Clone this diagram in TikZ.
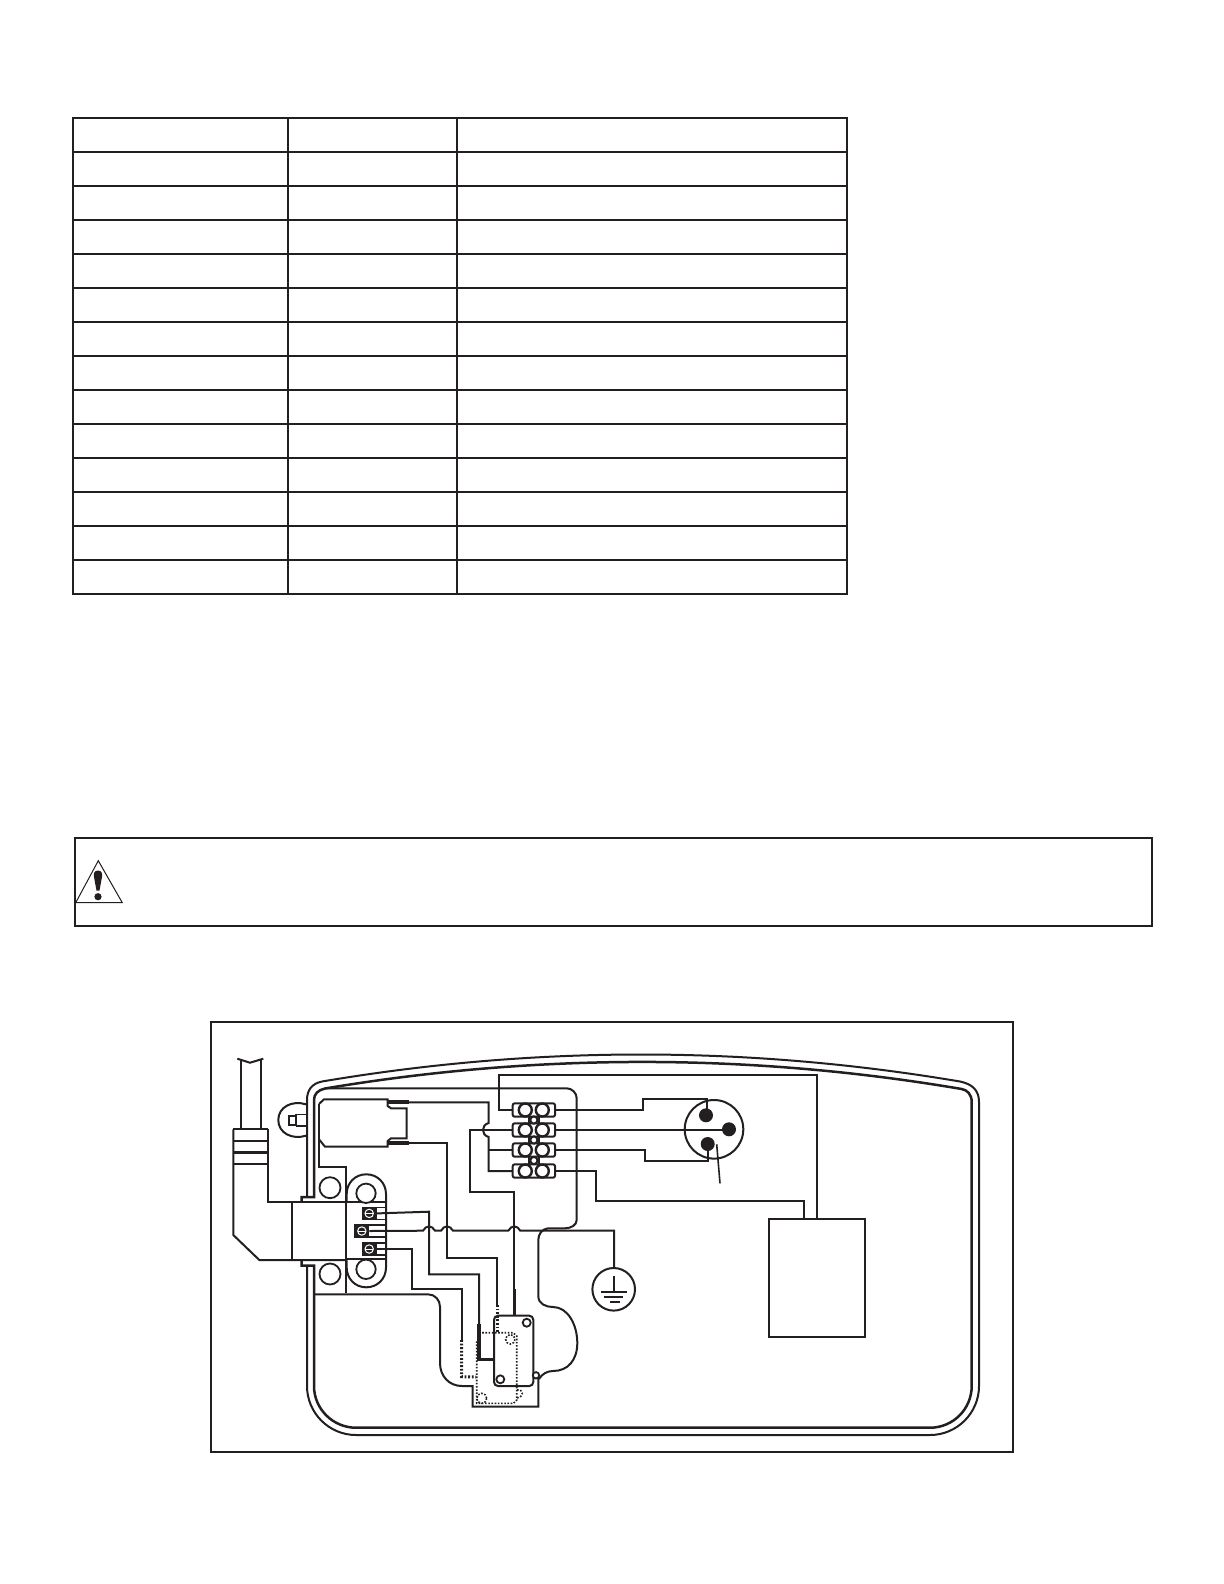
\documentclass[tikz,border=0pt]{standalone}
\definecolor{ink}{HTML}{231F20}
\tikzset{
  frameline/.style={draw=ink,line width=1pt},
  wall/.style={draw=ink,line width=1pt},
  wallthick/.style={draw=ink,line width=1.25pt},
  wire/.style={draw=ink,line width=1pt},
  thinwire/.style={draw=ink,line width=.8pt},
  lug/.style={draw=ink,line width=2pt},
  dotwire/.style={draw=ink,line width=.8pt,dash pattern=on .8pt off .8pt},
  dotthick/.style={draw=ink,line width=1.5pt,dash pattern=on .9pt off .9pt},
  hole/.style={draw=ink,line width=.9pt,fill=white},
}
\begin{document}
\begin{tikzpicture}[x=0.5pt,y=-0.5pt]
\useasboundingbox (0,0) rectangle (1224,1584);
% ---------- table
\draw[frameline] (73,118) rectangle (846.5,594);
\foreach \r in {1,...,13} \draw[frameline] (73,118+34*\r) -- (846.5,118+34*\r);
\draw[frameline] (288,118) -- (288,594);
\draw[frameline] (457,118) -- (457,594);
% ---------- warning box
\draw[frameline] (75,837.5) rectangle (1152,926);
\draw[ink,line width=.5pt] (98.3,860.7) -- (122.3,902.7) -- (75.7,902.7) -- cycle;
\fill[ink] (98,870.5) .. controls (102,870.5) and (102.5,874) .. (102,877) -- (99.5,890.5) -- (96.5,890.5) -- (94,877) .. controls (93.5,874) and (94,870.5) .. (98,870.5) -- cycle;
\fill[ink] (98,896.7) circle[radius=3.6];
% ---------- diagram frame
\draw[frameline] (211,1021.7) rectangle (1013.3,1451.7);
% ---------- housing walls
\draw[wall] (307,1197) -- (307,1100) .. controls (307,1090) and (312,1083.5) .. (322,1081.5)
   .. controls (535,1045.5) and (747,1045.5) .. (960,1081.5)
   .. controls (972,1084) and (979,1090) .. (979,1102)
   -- (979,1386) .. controls (979,1413) and (957,1435) .. (930,1435)
   -- (356,1435) .. controls (329,1435) and (307,1413) .. (307,1386) -- (307,1265.7);
\draw[wallthick] (301.7,1202) -- (301.7,1197) -- (314,1197) -- (314,1100) .. controls (314,1094) and (318,1090) .. (325,1088.5)
   .. controls (537,1053) and (750,1053) .. (961.7,1089)
   .. controls (967,1090) and (971.7,1094) .. (971.7,1102)
   -- (971.7,1386) .. controls (971.7,1409) and (953,1427.7) .. (930,1427.7)
   -- (356,1427.7) .. controls (333,1427.7) and (314,1409) .. (314,1386) -- (314,1265.7) -- (301.7,1265.7) -- (301.7,1260);
% compartment
\draw[wall] (325,1088.3) -- (566.7,1088.3) .. controls (572,1088.3) and (576.7,1093) .. (576.7,1098.3) -- (576.7,1220)
   .. controls (576.7,1225) and (571,1228.3) .. (565,1228.3) -- (548,1228.3) .. controls (542,1229) and (538.3,1234) .. (538.3,1240)
   -- (538.3,1296) .. controls (538.3,1304) and (546,1307) .. (553,1307)
   .. controls (568,1307) and (577.3,1325) .. (577.3,1343)
   .. controls (577.3,1360) and (568,1371) .. (553,1371) .. controls (547,1371) and (542,1374) .. (539,1379);
% lower rib
\draw[wall] (314,1294.3) -- (428,1294.3) .. controls (435,1294.3) and (440,1300) .. (440,1306.7) -- (440,1363)
   .. controls (440,1376) and (449,1386) .. (462,1386) -- (472.7,1386) -- (472.7,1406.7) -- (538.3,1406.7) -- (538.3,1378);
% mounting boss
\draw[wall] (306,1104.3) .. controls (292,1100) and (278.3,1107) .. (278.3,1120) .. controls (278.3,1133) and (292,1140) .. (306,1135.7);
\draw[wall,line width=.8pt] (289,1116) rectangle (296,1125);
\draw[wall,line width=.8pt] (296,1114.3) -- (306,1114.3) (296,1126) -- (306,1126) (296,1114.3) -- (296,1126);
% cable
\draw[wall] (237.3,1058.7) -- (250,1062.7) -- (263.3,1058.7);
\draw[wall] (240.7,1060) -- (240.7,1129) (260.7,1060) -- (260.7,1129);
\draw[wall] (233.3,1129.3) -- (267.7,1129.3);
\draw[wall] (233.3,1140.7) -- (267.7,1140.7);
\draw[wallthick] (233.3,1152.7) -- (267.7,1152.7);
\draw[wall] (233.3,1164) -- (267.7,1164);
\draw[wall] (233.3,1129.3) -- (233.3,1235) -- (259.3,1260) -- (345.7,1260);
\draw[wall] (267.7,1129.3) -- (267.7,1202) -- (386,1202);
\draw[wall] (292.3,1202) -- (292.3,1260);
% rear block
\draw[wall] (319,1104) -- (319,1167) -- (345.7,1167) -- (345.7,1292.7);
\draw[wall] (345.7,1259) -- (386,1259);
\draw[hole] (330,1187.7) circle[radius=10.5];
\draw[hole] (330,1274) circle[radius=10.5];
% capsule
\draw[wall] (346.7,1202) -- (346.7,1194) .. controls (346.7,1183) and (355,1174.3) .. (366.3,1174.3) .. controls (377.5,1174.3) and (386,1183) .. (386,1194)
   -- (386,1267.6) .. controls (386,1278.6) and (377.5,1287.3) .. (366.3,1287.3) .. controls (355,1287.3) and (346.7,1278.6) .. (346.7,1267.6) -- (346.7,1259);
\draw[hole] (366,1193.3) circle[radius=9.7];
\draw[hole] (366,1269.3) circle[radius=9.7];
% screws
\foreach \n/\sx/\sy in {SA/361.7/1206.7,SB/354.3/1224.3,SC/361.7/1242.3}{
  \fill[ink] (\sx,\sy) rectangle +(15,13.5);
  \draw[white,line width=.5pt] (\sx+7.5,\sy+6.7) circle[radius=4.2];
  \draw[white,line width=.5pt] (\sx+3.5,\sy+6.7) -- +(8,0);
  \coordinate (\n) at (\sx+15,\sy+6.7);
}
\draw[wall,line width=.7pt] (376.7,1207.5) -- (386,1207.5) (376.7,1219.5) -- (386,1219.5) (385,1225) -- (369.3,1225) (385,1237) -- (369.3,1237) (376.7,1243) -- (386,1243) (376.7,1255) -- (386,1255);
% thermostat
\draw[wall] (319,1104) -- (324,1099.3) -- (387.7,1099.3) -- (387.7,1106) -- (391,1108.3) -- (406.7,1108.3) -- (406.7,1138.3) -- (391,1138.3) -- (387.7,1141) -- (387.7,1146.7) -- (325,1146.7) -- (319,1139.3);
\coordinate (thA) at (409,1102.3);
\coordinate (thB) at (409,1143.3);
\draw[lug] (387.7,1102.3) -- (thA);
\draw[lug] (387.7,1143.3) -- (thB);
% terminal block
\foreach \r/\y in {A/1110,B/1130,C/1150,D/1171}{
  \coordinate (\r L) at (512.7,\y);
  \coordinate (\r R) at (555,\y);
}
\draw[wire] (529,1110) -- (529,1171) (539,1110) -- (539,1171);
\foreach \y in {1110,1130,1150,1171}{
  \draw[wire,fill=white,rounded corners=1pt] (512.7,\y-6.7) rectangle (555,\y+6.7);
  \draw[hole,line width=1.2pt] (525.3,\y) circle[radius=6.5];
  \draw[hole,line width=1.2pt] (542.3,\y) circle[radius=6.5];
}
\foreach \y in {1120,1140,1160.5} \draw[hole,line width=1pt] (533.9,\y) circle[radius=3.6];
% wires from thermostat and block
\draw[wire] (thA) -- (488.7,1102.3) -- (488.7,1123) .. controls (481,1125) and (481,1135) .. (488.7,1137) -- (488.7,1171) -- (DL);
\draw[wire] (488.7,1150) -- (CL);
\draw[wire] (thB) -- (447,1143.3) -- (447,1257.7) -- (497.3,1257.7) -- (497.3,1305);
\draw[wire] (BL) -- (470,1130) -- (470,1191.7) -- (514.3,1191.7) -- (514.3,1290);
\draw[wire] (AL) -- (499,1110) -- (499,1075) -- (816.7,1075) -- (816.7,1219);
\draw[wire] (AR) -- (643.3,1110) -- (643.3,1098.7) -- (706.5,1098.7) -- (706.5,1112);
\draw[thinwire] (BR) -- (725,1130);
\draw[wire] (CR) -- (645,1150) -- (645,1161) -- (708.3,1161) -- (708.3,1145);
\draw[wire] (DR) -- (595.7,1171) -- (595.7,1200.5) -- (804.3,1200.5) -- (804.3,1219);
% plug
\draw[wall] (714,1129.3) circle[radius=29.3];
\fill[ink] (706,1115.3) circle[radius=7];
\fill[ink] (729,1129.3) circle[radius=7];
\fill[ink] (707.7,1144) circle[radius=7];
\draw[thinwire] (716.7,1144.3) -- (720,1183.3);
% load box
\node[draw=ink,line width=1pt,minimum width=48pt,minimum height=58.85pt,inner sep=0pt] (load) at (817,1277.8) {};
% screw wires
\draw[wire] (SA) -- (429,1211.7) -- (429,1274.3) -- (479,1274.3) -- (479,1324);
\draw[lug,line width=1.6pt] (479,1324) -- (479,1359.3) -- (494,1359.3);
\draw[wire] (SC) -- (411.7,1249) -- (411.7,1288.7) -- (461.7,1288.7) -- (461.7,1340);
\draw[wire] (SB) -- (423,1230.7) .. controls (426,1225) and (432,1225) .. (435,1230.7)
  -- (441,1230.7) .. controls (444,1225) and (450,1225) .. (453,1230.7)
  -- (508.3,1230.7) .. controls (511.3,1225) and (517.3,1225) .. (520.3,1230.7)
  -- (614,1230.7) -- (614,1268);
% ground
\draw[wall] (613.7,1289.3) circle[radius=21.3];
\draw[wire] (613.7,1276) -- (613.7,1292);
\draw[wire] (601,1292) -- (626.7,1292);
\draw[wire] (604,1297.3) -- (623.3,1297.3);
\draw[wire] (610,1302.3) -- (620,1302.3);
% switch
\draw[lug,line width=1.8pt] (514.3,1289) -- (514.3,1316);
\draw[wire,fill=white,rounded corners=2pt] (494,1315.7) rectangle (533.3,1386);
\draw[hole] (526.7,1322.7) circle[radius=4];
\draw[hole] (500.3,1379.3) circle[radius=4];
\draw[hole] (536,1375.3) circle[radius=3.2];
% hidden wiring
\draw[dotthick] (497.3,1305) -- (497.3,1332);
\draw[dotthick] (461.7,1340) -- (461.7,1376.7) -- (476,1377);
\draw[dotwire] (479,1332.7) -- (513,1332.7) -- (516.7,1336) -- (516.7,1400) -- (513.5,1403.3) -- (476.7,1403.3) -- (476.7,1340);
\draw[dotwire] (510.3,1339.3) circle[radius=4.7];
\draw[dotwire] (481.7,1398.3) circle[radius=5];
\draw[dotwire] (517,1390) .. controls (524,1389) and (524,1397) .. (517,1398);
\end{tikzpicture}
\end{document}
